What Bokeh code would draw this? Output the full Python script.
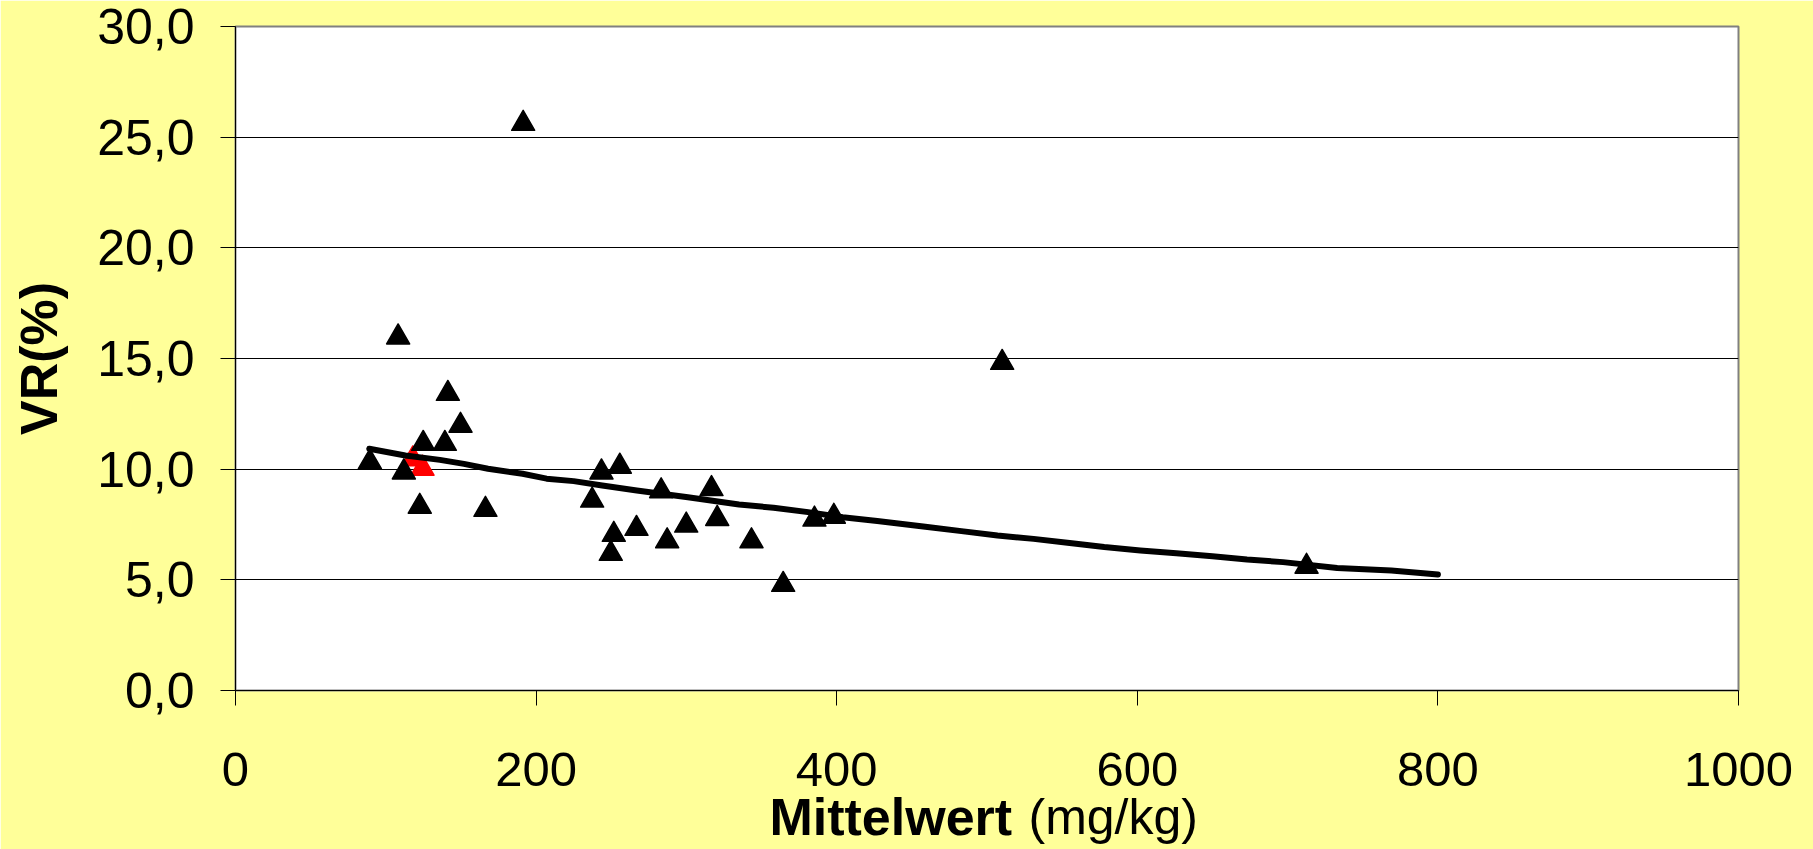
from bokeh.plotting import figure
from bokeh.models import Range1d, FixedTicker, LinearAxis
from bokeh.embed import file_html
from bokeh.resources import INLINE

# ---- data ----
mean_x = [89.4, 108.2, 112.0, 122.6, 124.9, 139.3, 141.3, 149.7, 166.3, 191.4,
          237.3, 243.5, 255.7, 251.7, 249.7, 266.8, 283.2, 287.2, 299.9, 316.7,
          320.5, 343.3, 364.4, 385.2, 398.1, 510.1, 712.6]
vr_y = [10.32, 15.96, 9.86, 8.31, 11.15, 11.15, 13.41, 11.97, 8.17, 25.61,
        8.59, 9.86, 10.12, 7.04, 6.18, 7.31, 9.01, 6.75, 7.46, 9.11,
        7.76, 6.75, 4.78, 7.73, 7.86, 14.81, 5.60]

red_x = [118.0, 124.4]
red_y = [10.45, 10.03]

trend_x = [89, 113, 136, 152, 168, 191, 207, 225, 244, 267, 301, 335, 358, 381,
           404, 427, 459, 483, 507, 531, 555, 578, 602, 626, 650, 673, 697, 733,
           769, 800]
trend_y = [10.92, 10.62, 10.42, 10.24, 10.02, 9.79, 9.57, 9.46, 9.26, 9.04, 8.73,
           8.40, 8.26, 8.06, 7.83, 7.66, 7.40, 7.20, 7.00, 6.85, 6.66, 6.48, 6.33,
           6.20, 6.07, 5.92, 5.80, 5.53, 5.42, 5.24]

x_ticks = [0, 200, 400, 600, 800, 1000]
y_ticks = [0, 5, 10, 15, 20, 25, 30]
y_tick_labels = {t: f"{t:.1f}".replace(".", ",") for t in y_ticks}

x_title_bold = "Mittelwert"
x_title_unit = "(mg/kg)"
y_title = "VR(%)"

# where the two parts of the x title sit along the x axis
X_TITLE_BOLD_AT = 436
X_TITLE_UNIT_AT = 584

FONT = "Liberation Sans"
BG = "#FFFF99"

p = figure(width=1813, height=849, output_backend="svg", toolbar_location=None,
           x_range=Range1d(0, 1000), y_range=Range1d(0, 30),
           min_border_left=235, min_border_right=75,
           min_border_top=26, min_border_bottom=159)
p.border_fill_color = BG
p.background_fill_color = "white"
p.outline_line_color = "#808080"
p.outline_line_width = 2

# axes
p.xaxis.ticker = FixedTicker(ticks=x_ticks)
p.yaxis.ticker = FixedTicker(ticks=y_ticks)
p.yaxis.major_label_overrides = y_tick_labels
for ax in (p.xaxis[0], p.yaxis[0]):
    ax.major_label_text_font = FONT
    ax.major_label_text_color = "black"
    ax.axis_line_color = "black"
    ax.axis_line_width = 1
    ax.major_tick_line_color = "black"
    ax.major_tick_in = 0
    ax.major_tick_out = 15
    ax.minor_tick_line_color = None
p.xaxis.major_label_text_font_size = "49px"
p.yaxis.major_label_text_font_size = "50px"
p.yaxis.major_label_standoff = 26
p.xaxis.major_label_standoff = 47

p.yaxis.axis_label = y_title
p.yaxis.axis_label_text_font = FONT
p.yaxis.axis_label_text_font_size = "52px"
p.yaxis.axis_label_text_font_style = "bold"
p.yaxis.axis_label_text_color = "black"
p.yaxis.axis_label_standoff = 26


def title_axis(pos, text, size, style, standoff):
    ax = LinearAxis(ticker=FixedTicker(ticks=[pos]),
                    major_label_overrides={pos: text},
                    axis_line_color=None, major_tick_line_color=None,
                    minor_tick_line_color=None, major_tick_in=0, major_tick_out=0,
                    major_label_standoff=standoff,
                    major_label_text_font=FONT,
                    major_label_text_font_size=size,
                    major_label_text_font_style=style,
                    major_label_text_color="black")
    p.add_layout(ax, "below")
    return ax


title_axis(X_TITLE_BOLD_AT, x_title_bold, "52px", "bold", -1)
title_axis(X_TITLE_UNIT_AT, x_title_unit, "50px", "normal", -60)

p.xgrid.grid_line_color = None
p.ygrid.ticker = FixedTicker(ticks=y_ticks)
p.ygrid.grid_line_color = "black"
p.ygrid.grid_line_width = 1

# marks
p.scatter(red_x, red_y, marker="triangle", size=23, fill_color="red",
          line_color="red", line_width=1.5, line_join="round")
p.scatter(mean_x, vr_y, marker="triangle", size=23, fill_color="black",
          line_color="black", line_width=1.5, line_join="round")
p.line(trend_x, trend_y, line_color="black", line_width=6,
       line_join="round", line_cap="round")

open("out.html", "w").write(file_html(p, INLINE))
